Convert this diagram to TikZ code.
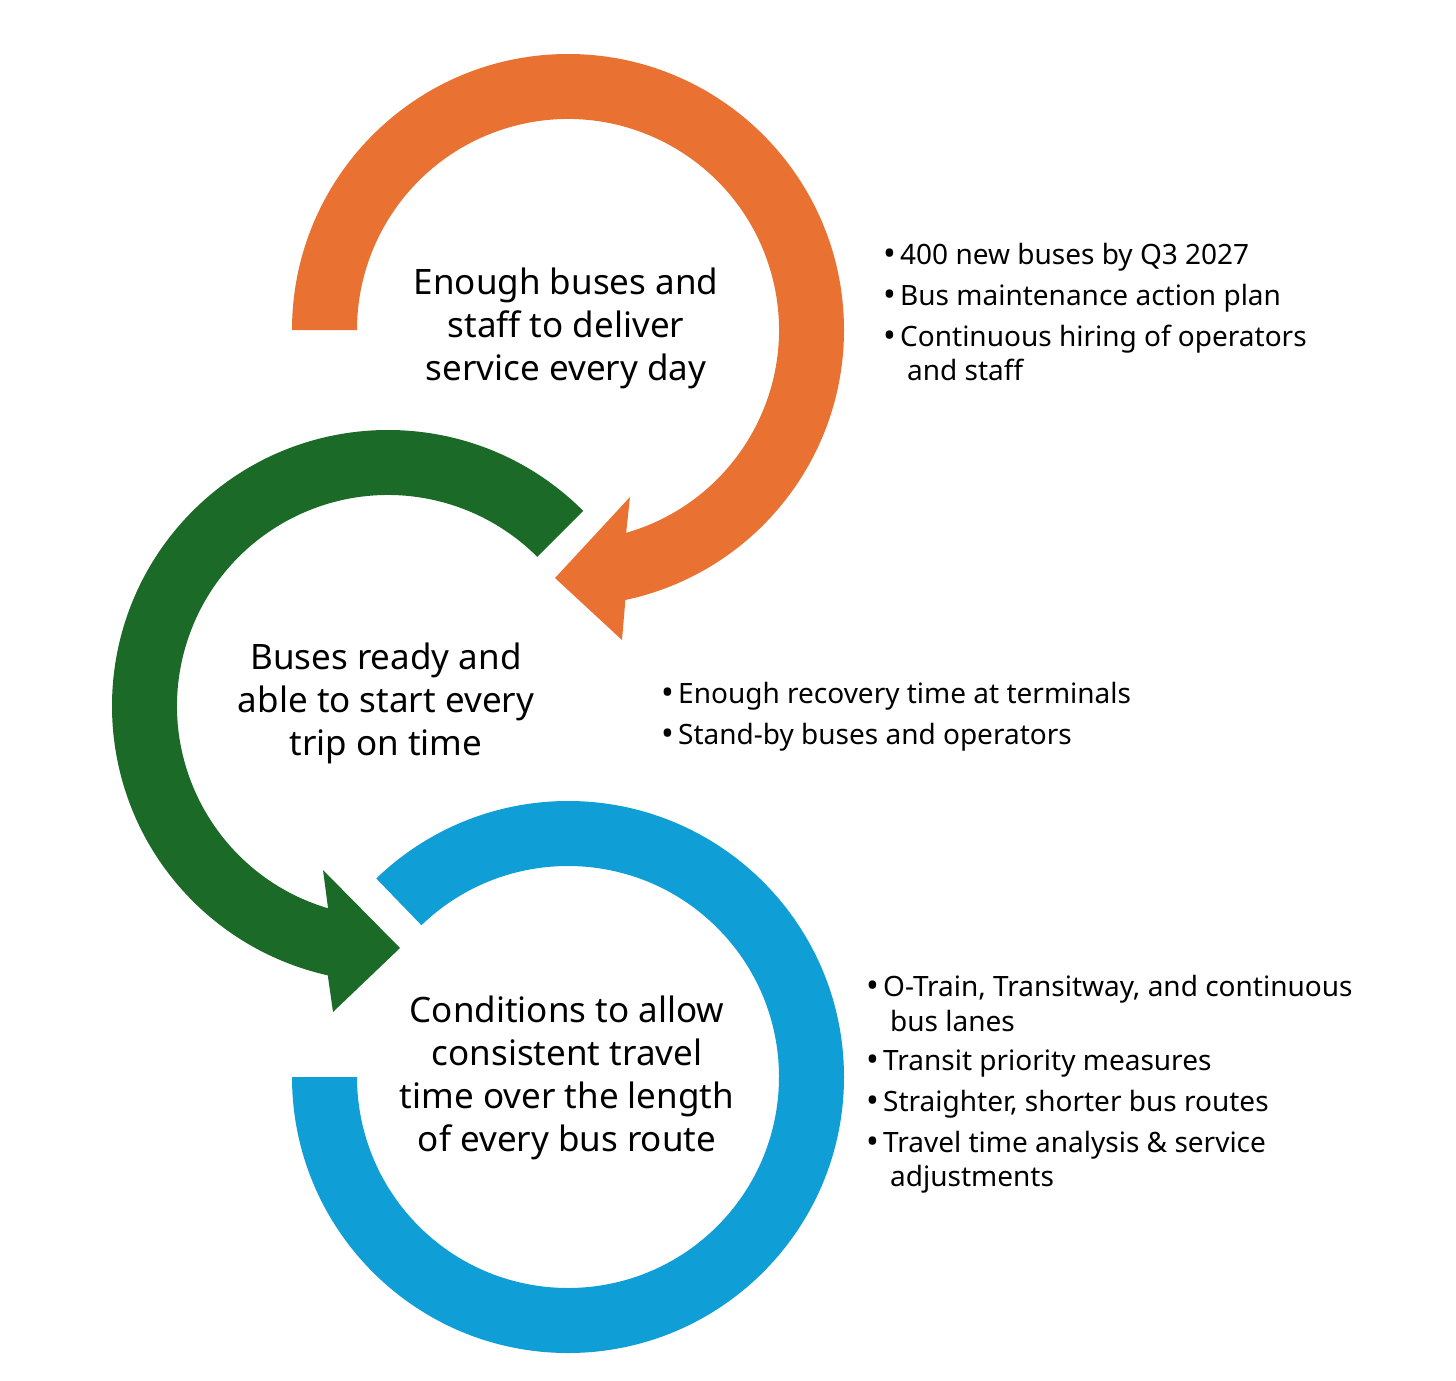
\documentclass[tikz,border=0pt]{standalone}
\usepackage{fontspec}
\setmainfont{Noto Sans}
\usetikzlibrary{calc}
\definecolor{oran}{HTML}{E97132}
\definecolor{gren}{HTML}{1B6A27}
\definecolor{blu}{HTML}{0F9ED5}
\newcommand{\bul}{\makebox[17pt][l]{\raisebox{-1pt}{\fontsize{34}{34}\selectfont•}}}
\begin{document}
\begin{tikzpicture}[x=1pt,y=-1pt,
  ctext/.style={align=center,font=\fontsize{35}{43}\selectfont},
  btext/.style={anchor=base west,inner sep=0pt,font=\fontsize{28}{34}\selectfont}]
\useasboundingbox (0,0) rectangle (1456,1381);
\coordinate (co) at (568,330);
\coordinate (cg) at (388,706);
\coordinate (cb) at (568,1077);
% orange
\fill[oran] ($(co)+(180:276)$) arc (180:438:276) -- (622,640) -- (555,578) -- (630,497) -- ($(co)+(434:211)$) arc (434:180:211) -- cycle;
% green
\fill[gren] ($(cg)+(-45:276)$) arc (-45:-257.4:276) -- (333,1012) -- (400,948) -- (323,870) -- ($(cg)+(-253.5:211)$) arc (-253.5:-45:211) -- cycle;
% blue
\fill[blu] ($(cb)+(180:276)$) arc (180:-134:276) -- ($(cb)+(-134:211)$) arc (-134:180:211) -- cycle;
\node[ctext] (to) at (566,328) {Enough buses and\\staff to deliver\\service every day};
\node[ctext] (tg) at (386,703) {Buses ready and\\able to start every\\trip on time};
\node[ctext] (tb) at (567,1078) {Conditions to allow\\consistent travel\\time over the length\\of every bus route};
\node[btext] (o1) at (883,264) {\bul 400 new buses by Q3 2027};
\node[btext] (o2) at (883,305) {\bul Bus maintenance action plan};
\node[btext] (o3) at (883,346) {\bul Continuous hiring of operators};
\node[btext] (o3b) at (907,380) {and staff};
\node[btext] (g1) at (661,703) {\bul Enough recovery time at terminals};
\node[btext] (g2) at (661,744) {\bul Stand-by buses and operators};
\node[btext] (b1) at (866,996) {\bul O-Train, Transitway, and continuous};
\node[btext] (b1b) at (890,1031) {bus lanes};
\node[btext] (b2) at (866,1070) {\bul Transit priority measures};
\node[btext] (b3) at (866,1111) {\bul Straighter, shorter bus routes};
\node[btext] (b4) at (866,1152) {\bul Travel time analysis \& service};
\node[btext] (b4b) at (890,1186) {adjustments};
\end{tikzpicture}
\end{document}
